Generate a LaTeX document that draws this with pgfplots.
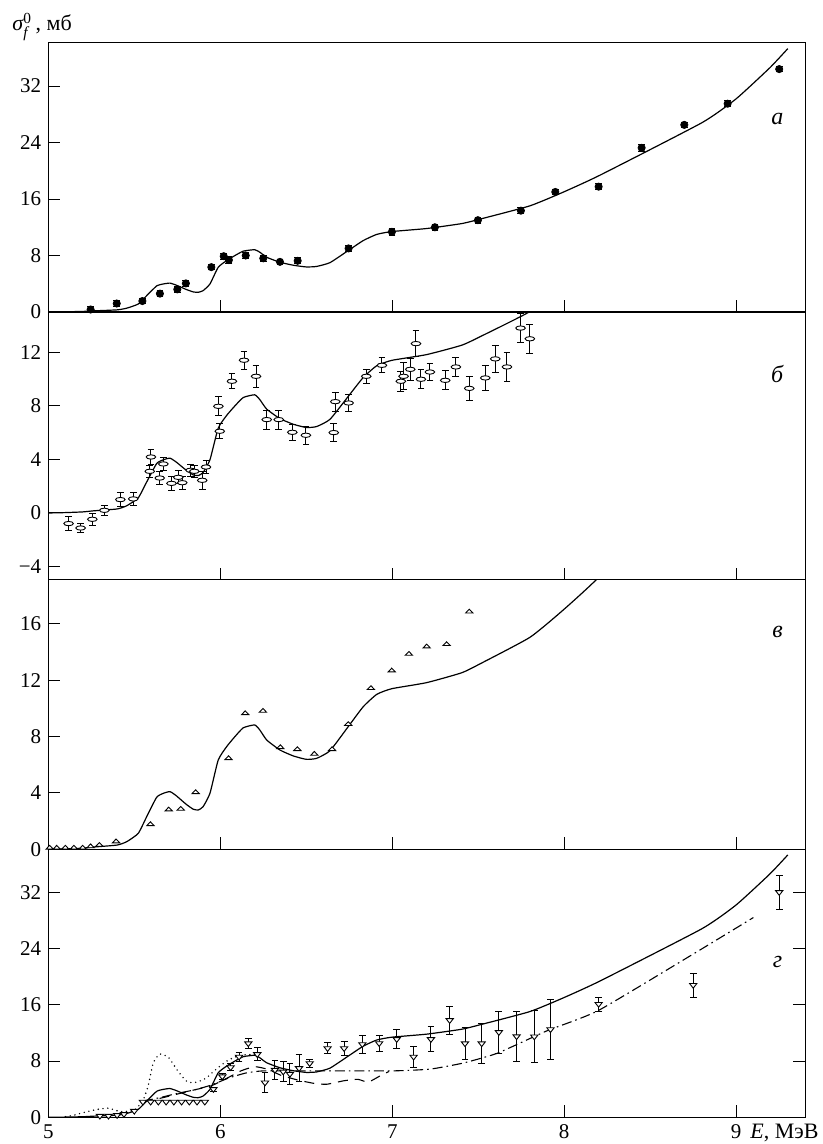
\documentclass[border=0pt]{standalone}
\usepackage{pgfplots}
\pgfplotsset{compat=1.18}
\usepackage{pgfplotstable}
\usepackage{amstext}
\usepackage{fontspec}
\setmainfont{Liberation Serif}

\pgfplotstableread{
x y
5.00 0.0
5.10 0.03
5.20 0.08
5.263 0.16
5.40 0.3
5.456 0.54
5.523 1.13
5.572 2.31
5.63 3.69
5.669 3.97
5.708 4.09
5.746 3.78
5.80 3.21
5.843 2.84
5.872 2.79
5.90 3.02
5.94 3.97
5.988 6.33
6.037 7.28
6.085 7.99
6.134 8.62
6.20 8.82
6.23 8.46
6.27 7.75
6.347 7.04
6.425 6.62
6.50 6.38
6.56 6.45
6.638 6.99
6.744 8.7
6.831 10.11
6.91 10.99
6.997 11.39
7.20 11.82
7.404 12.52
7.51 13.15
7.80 15.03
7.994 16.97
8.21 19.4
8.80 26.8
9.00 30.2
9.196 34.6
9.30 37.3
}\theory

\pgfplotstableread{
x y e
5.246 0.35 0.4
5.398 1.2 0.45
5.547 1.55 0.4
5.649 2.6 0.4
5.75 3.2 0.4
5.80 4.05 0.45
5.948 6.35 0.4
6.02 7.9 0.45
6.05 7.35 0.5
6.148 8.0 0.45
6.25 7.6 0.45
6.347 7.1 0.4
6.45 7.25 0.4
6.746 9.0 0.4
6.998 11.35 0.45
7.248 12.0 0.45
7.498 13.0 0.45
7.748 14.35 0.45
7.948 17.0 0.4
8.20 17.75 0.4
8.45 23.25 0.45
8.698 26.5 0.4
8.95 29.5 0.4
9.25 34.4 0.4
}\dataA

\pgfplotstableread{
x y e
5.118 -0.79 0.5
5.188 -1.12 0.36
5.256 -0.47 0.46
5.326 0.2 0.38
5.419 1.0 0.52
5.494 1.05 0.5
5.597 4.18 0.57
5.59 3.11 0.45
5.648 2.61 0.47
5.669 3.66 0.46
5.716 2.21 0.5
5.756 2.66 0.48
5.779 2.26 0.48
5.828 3.19 0.46
5.849 3.11 0.46
5.895 2.44 0.65
5.917 3.43 0.47
5.989 7.96 0.7
5.997 6.1 0.57
6.068 9.83 0.57
6.138 11.4 0.68
6.208 10.2 0.81
6.27 6.97 0.71
6.34 6.97 0.71
6.419 6.02 0.61
6.498 5.8 0.67
6.66 6.0 0.7
6.669 8.31 0.71
6.746 8.21 0.66
6.849 10.2 0.52
6.94 11.02 0.57
7.05 9.83 0.76
7.066 10.2 1.0
7.105 10.72 0.83
7.138 12.64 0.95
7.167 9.98 0.71
7.219 10.52 0.6
7.308 9.9 0.72
7.37 10.9 0.72
7.448 9.3 0.92
7.541 10.08 0.91
7.599 11.5 1.0
7.667 10.9 1.1
7.746 13.8 1.1
7.80 13.0 1.1
}\dataB

\pgfplotstableread{
x y
5.008 0.1
5.049 0.1
5.099 0.1
5.149 0.1
5.20 0.1
5.246 0.2
5.297 0.3
5.394 0.55
5.594 1.77
5.70 2.81
5.77 2.86
5.857 4.04
6.048 6.45
6.145 9.64
6.248 9.81
6.349 7.23
6.448 7.09
6.547 6.76
6.65 7.09
6.744 8.87
6.876 11.42
6.997 12.67
7.097 13.85
7.20 14.37
7.316 14.54
7.448 16.85
}\dataC

\pgfplotstableread{
x y
5.30 0.2
5.35 0.2
5.40 0.3
5.44 0.45
5.50 0.9
5.55 2.2
5.595 2.2
5.64 2.2
5.685 2.2
5.73 2.2
5.775 2.2
5.82 2.2
5.865 2.2
5.91 2.2
}\dataDnoerr

\pgfplotstableread{
x y e
5.96 4.0 0.3
6.012 5.8 0.4
6.06 7.1 0.5
6.109 8.6 0.6
6.163 10.5 0.7
6.215 8.96 0.9
6.26 4.93 1.4
6.318 6.73 1.3
6.366 6.49 1.4
6.405 6.16 1.5
6.458 6.97 1.9
6.52 7.68 0.6
6.624 9.81 0.8
6.72 9.81 1.0
6.826 10.38 1.25
6.924 10.52 1.1
7.026 11.1 1.35
7.124 8.6 1.5
7.225 11.1 1.8
7.334 13.8 2.0
7.423 10.5 2.3
7.52 10.5 2.8
7.62 12.1 3.0
7.723 11.5 3.5
7.826 11.47 3.7
7.92 12.5 4.3
8.20 16.1 1.0
8.75 18.8 1.7
9.25 32.0 2.4
}\dataD

\pgfplotstableread{
x y
5.10 0.1
5.15 0.3
5.20 0.65
5.28 1.1
5.35 1.3
5.42 0.8
5.50 1.0
5.55 2.4
5.58 4.4
5.61 7.7
5.648 9.0
5.70 8.5
5.75 6.7
5.80 5.2
5.84 4.9
5.875 5.1
5.92 5.6
5.96 6.5
6.00 7.3
6.045 8.1
6.09 8.6
6.15 8.9
6.20 8.9
}\dotted

\pgfplotstableread{
x y
5.55 2.2
5.65 2.7
5.75 3.3
5.85 3.9
5.95 4.5
6.05 5.7
6.12 6.6
6.20 7.2
6.28 6.8
6.35 6.0
6.45 5.3
6.55 4.8
6.62 4.7
6.72 5.2
6.80 5.4
6.86 5.0
6.93 5.9
6.98 6.5
}\dashedc

\pgfplotstableread{
x y
5.55 2.3
5.65 2.8
5.75 3.4
5.85 3.9
5.95 4.6
6.05 5.6
6.15 6.3
6.25 6.6
6.50 6.6
7.00 6.6
7.22 6.85
7.41 7.7
7.61 9.1
7.90 12.3
8.20 15.2
8.79 23.8
9.10 28.4
}\dashdot

\pgfplotsset{
  panel/.style={
    scale only axis, width=378.35pt, xmin=5, xmax=9.40,
    xtick={6,7,8,9}, xticklabels={}, xtick pos=left, ytick pos=left,
    tick align=inside, major tick length=6pt,
    axis line style={line width=0.5pt},
    every tick/.style={line width=0.5pt, black},
    tick label style={font=\fontsize{10.5}{12}\selectfont},
    /pgf/number format/assume math mode=true,
    anchor=south west,
  },
  theo/.style={black, line width=0.6pt, smooth, tension=0.3, no marks},
  ebar/.style={error bars/.cd, y dir=both, y explicit,
    error bar style={line width=0.5pt, black},
    error mark options={rotate=90, mark size=1.7pt, line width=0.5pt, black}},
}

\begin{document}
\begin{tikzpicture}
\useasboundingbox (0,0) rectangle (411.5pt,572pt);

% panel a
\begin{axis}[panel, at={(24.15pt,416pt)}, height=134.5pt, ymin=0, ymax=38.1,
  ytick={0,8,16,24,32}]
\addplot[theo] table[x=x,y=y] {\theory};
\addplot[only marks, mark=*, mark size=1.8pt, black, ebar] table[x=x,y=y,y error=e] {\dataA};
\node[font=\fontsize{12}{13}\selectfont] at (axis cs:9.24,27.3) {\textit{а}};
\end{axis}
\draw[line width=0.9pt] (24.15pt,416pt) -- (402.5pt,416pt);

% panel b
\begin{axis}[panel, at={(24.15pt,282pt)}, height=134pt, ymin=-5, ymax=15,
  ytick={-4,0,4,8,12}, yticklabels={−4,0,4,8,12}]
\addplot[theo] table[x=x,y=y] {\theory};
\addplot[only marks, mark=*, mark size=2.4pt, black,
  mark options={fill=white, draw=black, yscale=0.45, line width=0.45pt}, ebar]
  table[x=x,y=y,y error=e] {\dataB};
\node[font=\fontsize{12}{13}\selectfont] at (axis cs:9.24,10.4) {\textit{б}};
\end{axis}

% panel c
\begin{axis}[panel, at={(24.15pt,147.35pt)}, height=134.65pt, ymin=0, ymax=19.1,
  ytick={0,4,8,12,16}]
\addplot[theo] table[x=x,y=y] {\theory};
\addplot[only marks, mark=triangle*, mark size=2.1pt, black,
  mark options={fill=white, draw=black, yscale=0.6, line width=0.45pt}]
  table[x=x,y=y] {\dataC};
\node[font=\fontsize{12}{13}\selectfont] at (axis cs:9.24,15.4) {\textit{в}};
\end{axis}

% panel d
\begin{axis}[panel, at={(24.15pt,13.35pt)}, height=134pt, ymin=0, ymax=38.1,
  ytick={0,8,16,24,32}, ytick pos=both,
  xtick={5,6,7,8,9}, xticklabels={5,6,7,8,9}]
\addplot[theo] table[x=x,y=y] {\theory};
\addplot[black, line width=0.8pt, line cap=round, dash pattern=on 0pt off 2.4pt, smooth, tension=0.3] table[x=x,y=y] {\dotted};
\addplot[black, line width=0.55pt, dash pattern=on 5pt off 3.5pt, smooth, tension=0.3] table[x=x,y=y] {\dashedc};
\addplot[black, line width=0.55pt, dash pattern=on 5pt off 2pt on 0.8pt off 2pt, smooth, tension=0.3] table[x=x,y=y] {\dashdot};
\addplot[only marks, mark=triangle*, mark size=2.1pt, black,
  mark options={fill=white, draw=black, rotate=180, yscale=0.75, line width=0.45pt}]
  table[x=x,y=y] {\dataDnoerr};
\addplot[only marks, mark=triangle*, mark size=2.1pt, black,
  mark options={fill=white, draw=black, rotate=180, yscale=0.75, line width=0.45pt}, ebar]
  table[x=x,y=y,y error=e] {\dataD};
\node[font=\fontsize{12}{13}\selectfont] at (axis cs:9.24,22.1) {\textit{г}};
\end{axis}

\node[anchor=base west, inner sep=0pt, font=\fontsize{11}{12}\selectfont] at (6pt,556.5pt) {$\textit{σ}^{\text{0}}_{\textit{f}}$\,, мб};
\node[anchor=base west, inner sep=0pt, font=\fontsize{11}{12}\selectfont] at (375pt,2.5pt) {\textit{E}, МэВ};
\end{tikzpicture}
\end{document}
